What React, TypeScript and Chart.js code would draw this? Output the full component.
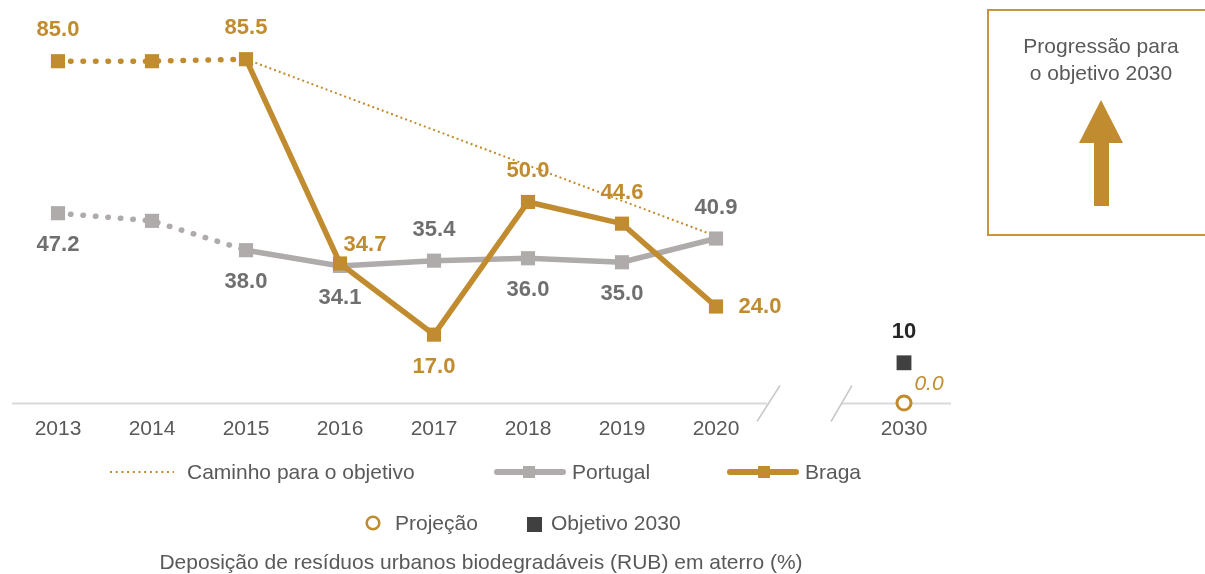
import React, { useEffect, useRef } from "react";
import { Chart, registerables } from "chart.js";

Chart.register(...registerables);

const FONT = '"Liberation Sans", Arial, sans-serif';
const GOLD = "#C18B2F";
const GRAY = "#AFABAB";
const GRAY_TXT = "#6F6F6F";
const TXT = "#595959";

const categories = ["2013", "2014", "2015", "2016", "2017", "2018", "2019", "2020", "", "2030"];
const bragaValues = [85.0, 85.0, 85.5, 34.7, 17.0, 50.0, 44.6, 24.0, null, null];
const portugalValues = [47.2, 45.3, 38.0, 34.1, 35.4, 36.0, 35.0, 40.9, null, null];
const pathValues = [null, null, 85.5, null, null, null, null, 41.5, null, null];
const targetValues = [null, null, null, null, null, null, null, null, null, 10];
const projectionValues = [null, null, null, null, null, null, null, null, null, 0.0];

// label placement (not data)
const bragaLabelPos = ["top", null, "top", "upright", "bottom", "top", "top", "right", null, null];
const portugalLabelPos = ["bottom", null, "bottom", "bottom", "top", "bottom", "bottom", "top", null, null];
const targetLabelPos = [null, null, null, null, null, null, null, null, null, "top"];
const projectionLabelPos = [null, null, null, null, null, null, null, null, null, "upright"];

const OFFSETS: Record<string, [number, number]> = {
  top: [0, -31],
  bottom: [0, 32],
  right: [44, 0],
  upright: [25, -19],
};

const valueLabelPlugin = {
  id: "valueLabels",
  afterDatasetsDraw(chart: any) {
    const ctx = chart.ctx;
    chart.data.datasets.forEach((ds: any, i: number) => {
      const spec = ds.labelSpec;
      if (!spec) return;
      const meta = chart.getDatasetMeta(i);
      meta.data.forEach((pt: any, j: number) => {
        const pos = spec.pos[j];
        const v = ds.data[j];
        if (!pos || v == null) return;
        const [dx, dy] = OFFSETS[pos];
        ctx.save();
        ctx.font = spec.font;
        ctx.fillStyle = spec.color;
        ctx.textAlign = "center";
        ctx.textBaseline = "middle";
        const txt = spec.integer ? String(Math.round(v)) : v.toFixed(1);
        ctx.fillText(txt, pt.x + dx, pt.y + dy);
        ctx.restore();
      });
    });
  },
};

const brokenAxisPlugin = {
  id: "brokenAxis",
  beforeDatasetsDraw(chart: any) {
    const ctx = chart.ctx;
    const xs = chart.scales.x;
    const area = chart.chartArea;
    const y = area.bottom + 0.5;
    const p7 = xs.getPixelForValue(7);
    const p9 = xs.getPixelForValue(9);
    ctx.save();
    ctx.strokeStyle = "#D9D9D9";
    ctx.lineWidth = 2;
    ctx.beginPath();
    ctx.moveTo(area.left + 1, y);
    ctx.lineTo(p7 + 51, y);
    ctx.moveTo(p9 - 62, y);
    ctx.lineTo(area.right, y);
    ctx.stroke();
    ctx.strokeStyle = "#C8C8C8";
    ctx.lineWidth = 1.5;
    ctx.beginPath();
    ctx.moveTo(p7 + 41, y + 18);
    ctx.lineTo(p7 + 64, y - 18);
    ctx.moveTo(p9 - 73, y + 18);
    ctx.lineTo(p9 - 52, y - 18);
    ctx.stroke();
    ctx.restore();
  },
};

const dotted = (c: any) => (c.p1DataIndex <= 2 ? [0.5, 12] : []);

export default function App() {
  const ref = useRef<HTMLCanvasElement | null>(null);

  useEffect(() => {
    if (!ref.current) return;
    Chart.defaults.font.family = FONT;
    const chart = new Chart(ref.current, {
      type: "line",
      data: {
        labels: categories,
        datasets: [
          {
            label: "Braga",
            data: bragaValues,
            borderColor: GOLD,
            backgroundColor: GOLD,
            borderWidth: 5.5,
            borderCapStyle: "round",
            pointStyle: "rect",
            pointRadius: 10,
            pointBorderWidth: 0,
            pointBackgroundColor: GOLD,
            segment: { borderDash: dotted },
            order: 0,
            labelSpec: { pos: bragaLabelPos, font: `bold 22px ${FONT}`, color: GOLD },
          } as any,
          {
            label: "Portugal",
            data: portugalValues,
            borderColor: GRAY,
            backgroundColor: GRAY,
            borderWidth: 5.5,
            borderCapStyle: "round",
            pointStyle: "rect",
            pointRadius: 10,
            pointBorderWidth: 0,
            pointBackgroundColor: GRAY,
            segment: { borderDash: dotted },
            order: 1,
            labelSpec: { pos: portugalLabelPos, font: `bold 22px ${FONT}`, color: GRAY_TXT },
          } as any,
          {
            label: "Caminho para o objetivo",
            data: pathValues,
            borderColor: GOLD,
            borderWidth: 2,
            borderDash: [2, 3],
            pointRadius: 0,
            spanGaps: true,
            order: 2,
          } as any,
          {
            label: "Objetivo 2030",
            data: targetValues,
            showLine: false,
            pointStyle: "rect",
            pointRadius: 10.5,
            pointBorderWidth: 0,
            pointBackgroundColor: "#404040",
            order: 0,
            labelSpec: { pos: targetLabelPos, font: `bold 22px ${FONT}`, color: "#262626", integer: true },
          } as any,
          {
            label: "Projeção",
            data: projectionValues,
            showLine: false,
            pointStyle: "circle",
            pointRadius: 7,
            pointBorderWidth: 3,
            pointBorderColor: GOLD,
            pointBackgroundColor: "#FFFFFF",
            order: 0,
            labelSpec: { pos: projectionLabelPos, font: `italic 21px ${FONT}`, color: GOLD },
          } as any,
        ],
      },
      options: {
        responsive: false,
        animation: false,
        clip: false as any,
        layout: { padding: { left: 11, right: 19, top: 21, bottom: 0 } },
        plugins: {
          legend: { display: false },
          tooltip: { enabled: false },
          title: { display: false },
        },
        scales: {
          x: {
            offset: true,
            grid: { display: false, drawTicks: false },
            border: { display: false },
            ticks: { color: TXT, font: { size: 21, family: FONT }, padding: 14, maxRotation: 0, autoSkip: false },
            afterFit: (s: any) => {
              s.height = 50;
            },
          },
          y: {
            display: false,
            min: 0,
            max: 95,
          },
        },
      },
      plugins: [brokenAxisPlugin, valueLabelPlugin],
    });
    return () => chart.destroy();
  }, []);

  const txt: React.CSSProperties = {
    position: "absolute",
    font: `21px ${FONT}`,
    color: TXT,
    height: 24,
    lineHeight: "24px",
    whiteSpace: "nowrap",
  };

  return (
    <div style={{ position: "fixed", left: 0, top: 0, width: 1205, height: 574, overflow: "hidden", background: "#fff" }}>
      <canvas ref={ref} width={970} height={453} style={{ position: "absolute", left: 0, top: 0, width: 970, height: 453 }} />

      <svg style={{ position: "absolute", left: 0, top: 0 }} width={1205} height={574}>
        <line x1={110} y1={472} x2={174} y2={472} stroke={GOLD} strokeWidth={2} strokeDasharray="2 3.7" />
        <line x1={497} y1={472} x2={563} y2={472} stroke={GRAY} strokeWidth={6} strokeLinecap="round" />
        <rect x={523} y={466} width={12} height={12} fill={GRAY} />
        <line x1={730} y1={472} x2={796} y2={472} stroke={GOLD} strokeWidth={6} strokeLinecap="round" />
        <rect x={758} y={466} width={12} height={12} fill={GOLD} />
        <circle cx={373} cy={523} r={6.3} fill="none" stroke={GOLD} strokeWidth={2.6} />
        <rect x={527} y={517} width={15} height={15} fill="#404040" />
        <polygon points="1101,100 1079,143 1123,143" fill={GOLD} />
        <rect x={1094} y={142} width={15} height={64} fill={GOLD} />
      </svg>
      <div style={{ ...txt, left: 187, top: 460 }}>Caminho para o objetivo</div>
      <div style={{ ...txt, left: 572, top: 460 }}>Portugal</div>
      <div style={{ ...txt, left: 805, top: 460 }}>Braga</div>
      <div style={{ ...txt, left: 395, top: 511 }}>Projeção</div>
      <div style={{ ...txt, left: 551, top: 511 }}>Objetivo 2030</div>
      <div style={{ ...txt, left: 11, width: 940, textAlign: "center", top: 550 }}>
        Deposição de resíduos urbanos biodegradáveis (RUB) em aterro (%)
      </div>

      <div
        style={{
          position: "absolute",
          left: 987,
          top: 9,
          width: 240,
          height: 227,
          boxSizing: "border-box",
          border: "2px solid #C4963F",
        }}
      />
      <div style={{ ...txt, left: 1001, width: 200, textAlign: "center", top: 32, height: 54, lineHeight: "27px", whiteSpace: "normal" }}>
        Progressão para
        <br />o objetivo 2030
      </div>
    </div>
  );
}
